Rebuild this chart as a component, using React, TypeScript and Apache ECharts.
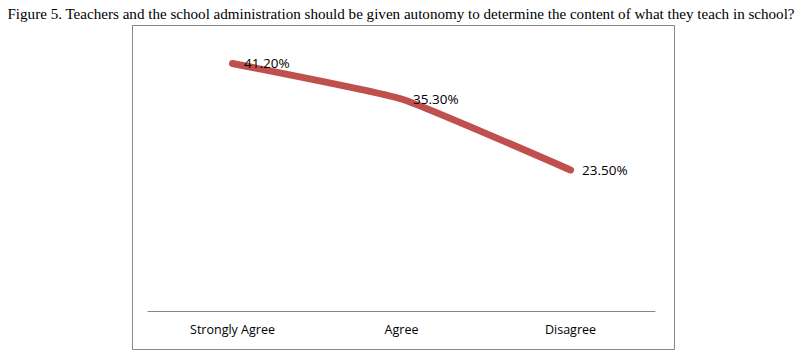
import React, { useEffect, useRef } from "react";
import * as echarts from "echarts";

const titleText =
  "Figure 5. Teachers and the school administration should be given autonomy to determine the content of what they teach in school?";
const categories = ["Strongly Agree", "Agree", "Disagree"];
const values = [41.2, 35.3, 23.5];

export default function App() {
  const ref = useRef<HTMLDivElement>(null);
  useEffect(() => {
    document.body.style.margin = "0";
    const chart = echarts.init(ref.current!, null, { renderer: "svg" });
    chart.setOption({
      animation: false,
      backgroundColor: "#ffffff",
      title: {
        text: titleText,
        left: "center",
        top: 1,
        textStyle: {
          fontFamily: "Liberation Serif",
          fontSize: 15.1,
          fontWeight: "normal",
          color: "#000",
        },
      },
      graphic: [
        {
          type: "rect",
          shape: { x: 132.5, y: 25.5, width: 542, height: 324 },
          style: { fill: "none", stroke: "#888", lineWidth: 1 },
          silent: true,
          z: -1,
        },
      ],
      grid: { left: 148, right: 802 - 655, top: 40.6, bottom: 46.6 },
      xAxis: {
        type: "category",
        data: categories,
        boundaryGap: true,
        axisLine: { lineStyle: { color: "#888", width: 1 } },
        axisTick: { show: false },
        axisLabel: {
          fontFamily: "Open Sans",
          fontSize: 12.5,
          color: "#000",
          margin: 12,
        },
      },
      yAxis: {
        type: "value",
        min: 0,
        max: 45,
        show: false,
        splitLine: { show: false },
      },
      series: [
        {
          type: "line",
          data: values,
          smooth: 0.12,
          symbol: "circle",
          symbolSize: 1,
          showSymbol: true,
          itemStyle: { color: "rgba(0,0,0,0)" },
          lineStyle: { color: "#C0504D", width: 7, cap: "round", join: "round" },
          label: {
            show: true,
            position: "right",
            distance: 11,
            formatter: (p: any) => p.value.toFixed(2) + "%",
            fontFamily: "Open Sans",
            fontSize: 13.5,
            color: "#000",
          },
        },
      ],
    });
    return () => chart.dispose();
  }, []);
  return <div ref={ref} style={{ width: 802, height: 358 }} />;
}
